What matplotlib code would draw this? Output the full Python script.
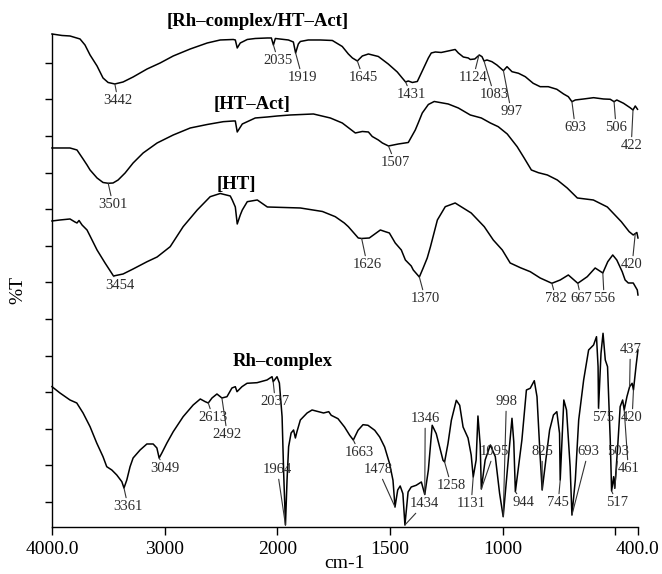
import numpy as np
import matplotlib
matplotlib.use("Agg")
import matplotlib.pyplot as plt
from matplotlib.ticker import NullLocator

plt.rcParams["font.family"] = ["Liberation Serif", "DejaVu Serif"]

# Spectra: wavenumber (cm-1) and %T in offset arbitrary units
rhht_wn = [4000, 3911, 3840, 3751, 3707, 3662, 3600, 3547, 3502, 3442, 3369, 3280, 3156, 3040, 2924,
           2773, 2622, 2507, 2391, 2373, 2356, 2329, 2267, 2196, 2089, 2053, 2035, 2018, 1951, 1929,
           1919, 1907, 1898, 1863, 1809, 1756, 1712, 1685, 1667, 1645, 1623, 1596, 1552, 1508, 1468,
           1446, 1431, 1419, 1401, 1379, 1357, 1330, 1317, 1299, 1273, 1242, 1211, 1197, 1175, 1153,
           1144, 1124, 1104, 1092, 1083, 1070, 1048, 1026, 997, 981, 959, 930, 900, 865, 834,
           798, 760, 730, 709, 693, 678, 641, 597, 553, 523, 506, 494, 464, 435, 422,
           412, 402]
rhht_t = [468, 466.5, 466, 463, 457, 447, 436, 424, 419.5, 418, 420, 425, 433, 439, 446,
          453, 459, 462, 462.5, 462, 454, 459, 462.5, 463.5, 464, 464, 457, 463.5, 462, 460,
          449, 458, 460.5, 462, 462, 461.5, 455.5, 448, 444, 441, 446, 448, 445.5, 438, 430,
          424, 420, 421, 419.5, 420.5, 431, 444, 449, 450, 449.5, 451, 452.5, 449, 445, 444,
          442.5, 443, 447, 445.3, 441, 442, 440.3, 437, 431.3, 435.3, 430.3, 428.7, 425.3, 418.7, 415.3,
          415.3, 412.7, 408, 405.3, 400.3, 402, 403, 404.3, 403, 402.7, 400.3, 402, 398.7, 394.3, 392,
          396, 392.7]

ht_act_wn = [4000, 3840, 3778, 3724, 3689, 3662, 3600, 3547, 3501, 3458, 3413, 3351, 3280, 3191, 3067,
             2924, 2773, 2622, 2480, 2391, 2373, 2356, 2311, 2196, 2089, 2000, 1942, 1840, 1765, 1712,
             1654, 1623, 1596, 1579, 1552, 1534, 1507, 1463, 1419, 1388, 1375, 1357, 1330, 1304, 1242,
             1197, 1144, 1095, 1055, 1020, 980, 936, 905, 873, 842, 802, 758, 714, 669, 598,
             536, 474, 439, 421, 405, 400]
ht_act_t = [354, 354, 352, 343, 337, 332, 324, 319.5, 318.7, 319, 322, 329, 339, 349, 359,
            367, 374, 377.5, 380.3, 381, 381, 370, 378, 384, 385, 386, 387, 388, 384, 379,
            369, 370.5, 370, 365.5, 362, 359, 356, 358, 359.5, 372, 379, 389, 397.5, 400.5, 398,
            394, 387, 384, 379, 375.3, 368, 355.3, 344, 332, 329.3, 327, 322, 314, 304, 302,
            295, 280.3, 270.3, 267, 269.5, 264]

ht_wn = [4000, 3929, 3840, 3796, 3778, 3760, 3733, 3689, 3662, 3600, 3529, 3454, 3369, 3280, 3156,
         3067, 2951, 2836, 2711, 2596, 2507, 2418, 2400, 2373, 2356, 2329, 2311, 2267, 2178, 2089,
         1898, 1800, 1743, 1703, 1685, 1641, 1626, 1592, 1543, 1521, 1503, 1477, 1450, 1432, 1406,
         1397, 1370, 1353, 1335, 1321, 1290, 1255, 1211, 1197, 1140, 1082, 1042, 1002, 967, 922,
         878, 834, 782, 745, 709, 667, 625, 590, 556, 534, 512, 494, 470, 457, 443,
         421, 403, 400]
ht_t = [281, 282, 283, 280, 279, 281.5, 277, 272, 266, 252, 239, 226, 228, 233, 240.3,
        245, 255.3, 275.3, 292, 305.3, 308.5, 306, 302, 295, 278, 287, 292, 300.3, 302, 295,
        294, 290.5, 285.3, 279, 275.3, 264, 263.5, 264, 272, 270.3, 269, 259, 252, 242, 236,
        232, 225, 234, 244, 255, 282, 295.3, 299, 297, 289, 275.3, 262, 252, 239, 234.3,
        230.3, 224, 218.7, 222, 227, 218.7, 225.3, 234, 229, 240.3, 247, 242, 230.3, 222, 219,
        219, 212, 207]

rh_wn = [4000, 3929, 3840, 3780, 3724, 3662, 3603, 3547, 3514, 3469, 3425, 3380, 3361, 3336, 3307,
         3280, 3218, 3158, 3102, 3069, 3049, 3025, 2980, 2924, 2836, 2747, 2684, 2640, 2613, 2580,
         2536, 2492, 2447, 2403, 2373, 2358, 2314, 2269, 2180, 2092, 2047, 2037, 2003, 1991, 1979,
         1972, 1964, 1957, 1950, 1939, 1928, 1920, 1913, 1898, 1868, 1846, 1817, 1795, 1772, 1761,
         1731, 1702, 1679, 1663, 1642, 1620, 1598, 1568, 1546, 1524, 1502, 1487, 1478, 1466, 1455,
         1443, 1434, 1420, 1406, 1384, 1361, 1346, 1330, 1313, 1295, 1280, 1265, 1258, 1243, 1228,
         1206, 1191, 1176, 1154, 1140, 1131, 1118, 1110, 1100, 1095, 1078, 1055, 1033, 1014, 998,
         981, 959, 951, 944, 915, 895, 878, 860, 848, 834, 825, 807, 792, 775, 760,
         748, 745, 729, 717, 701, 693, 678, 663, 641, 619, 597, 584, 577, 575, 564,
         555, 545, 535, 523, 517, 508, 503, 490, 479, 468, 461, 449, 437, 426, 420,
         408, 400]
rh_t = [115.3, 109, 102, 99, 89, 75.3, 59, 45.3, 35.3, 32, 27, 20.3, 14, 22, 35.3,
        44, 52, 58, 58, 54, 44, 49, 59, 70.3, 85.3, 97, 103, 100.3, 99, 104,
        108, 104, 105.3, 114, 115.3, 110.3, 115.3, 118.7, 119.3, 122, 125.3, 120.3, 125.3, 119, 85.3,
        29, -23, 22, 55.3, 69, 72, 64, 70.3, 82, 89, 92, 90.3, 89, 90.3, 86.7,
        83.3, 75, 66.7, 62, 71.7, 77.3, 76.7, 71.7, 65, 55, 38.3, 21.7, -5, 12, 16,
        8.3, -23, 10, 15, 16.7, 20, 7.5, 32, 76.7, 68.3, 55, 41.7, 40, 58.3, 81.7,
        101.7, 96.7, 75, 64, 47, 25, 42, 86, 57, 13, 42, 57, 45.3, 8.7, -14.7,
        28.7, 83.7, 60, 10.3, 62, 112, 113.7, 121.3, 105.3, 45.3, 12, 45.3, 72, 87, 90.3,
        68.7, 22, 102, 92, 35.3, -13, 22, 82, 122, 152, 157, 165.3, 135.3, 93.7, 148.7,
        168.7, 142, 135.3, 62, 11, 25.3, 13.7, 55.3, 95.3, 102, 92, 105.3, 115.3, 118.7, 112,
        137, 152]

# sample names and where they sit
names = ["[Rh\u2013complex/HT\u2013Act]", "[HT\u2013Act]", "[HT]", "Rh\u2013complex"]
name_pos = [(2178, 480), (2222, 397), (2364, 317), (1978, 140)]

# peak labels: text, wavenumber the line points at, label position
rhht_peaks = ["3442", "2035", "1919", "1645", "1431", "1124", "1083", "997", "693", "506", "422"]
rhht_peak_x = [3442, 2035, 1919, 1645, 1431, 1106, 1083, 997, 693, 506, 422]
rhht_peak_pos = [(3413, 401), (1996, 441), (1889, 424), (1619, 424), (1406, 407), (1131, 424),
                 (1038, 407), (962, 390), (678, 374), (497, 374), (430, 356)]

ht_act_peaks = ["3501", "1507", "420"]
ht_act_peak_x = [3501, 1507, 412]
ht_act_peak_pos = [(3458, 297), (1477, 339), (426, 237)]

ht_peaks = ["3454", "1626", "1370", "782", "667", "556"]
ht_peak_x = [3454, 1626, 1370, 782, 667, 556]
ht_peak_pos = [(3396, 216), (1601, 237), (1344, 203), (763, 203), (652, 203), (550, 203)]

rh_peaks = ["3361", "3049", "2613", "2492", "2037", "1964", "1663", "1478", "1434", "1346", "1258",
            "1131", "1095", "998", "944", "825", "745", "693", "575", "517", "503", "461", "437", "420"]
rh_peak_x = [3361, 3049, 2613, 2492, 2037, 1964, 1663, 1478, 1434, 1346, 1258,
             1131, 1095, 998, 944, 825, 745, 693, 575, 517, 503, 461, 437, 420]
rh_peak_pos = [(3324, -5), (2996, 33), (2569, 84), (2444, 67), (2018, 100), (2000, 32), (1636, 49),
               (1552, 32), (1348, -2), (1344, 83), (1228, 16), (1140, -2), (1038, 50), (984, 100),
               (909, -1), (825, 50), (754, -1), (621, 50), (554, 84), (492, -1), (488, 50),
               (443, 33), (434, 152), (426, 84)]


def fwd(x):
    # 4000-2000 region is drawn at half the scale of 2000-400
    x = np.asarray(x, dtype=float)
    return np.where(x > 2000, 2000 + (x - 2000) / 2, x)


def inv(u):
    u = np.asarray(u, dtype=float)
    return np.where(u > 2000, 2000 + (u - 2000) * 2, u)


fig = plt.figure(figsize=(6.62, 5.74), dpi=100)
ax = fig.add_axes([0.0785, 0.0819, 0.8852, 0.8589])
ax.set_xscale("function", functions=(fwd, inv))
ax.set_xlim(4000, 400)
ax.set_ylim(-25, 468)

spectra = [(rhht_wn, rhht_t), (ht_act_wn, ht_act_t), (ht_wn, ht_t), (rh_wn, rh_t)]
for wn, t in spectra:
    ax.plot(wn, t, color="black", lw=1.1, clip_on=False)

for name, (x, y) in zip(names, name_pos):
    ax.text(x, y, name, ha="center", va="center", fontsize=13.5, fontweight="bold")

peak_sets = [
    (rhht_peaks, rhht_peak_x, rhht_peak_pos, rhht_wn, rhht_t),
    (ht_act_peaks, ht_act_peak_x, ht_act_peak_pos, ht_act_wn, ht_act_t),
    (ht_peaks, ht_peak_x, ht_peak_pos, ht_wn, ht_t),
    (rh_peaks, rh_peak_x, rh_peak_pos, rh_wn, rh_t),
]
for labels, xs, pos, wn, t in peak_sets:
    for lab, px, (tx, ty) in zip(labels, xs, pos):
        py = np.interp(px, wn[::-1], t[::-1])
        ax.annotate(lab, xy=(px, py), xytext=(tx, ty), textcoords="data",
                    ha="center", va="center", fontsize=10.5, color="#2b2b2b",
                    arrowprops=dict(arrowstyle="-", color="#333333", lw=0.8,
                                    shrinkA=0, shrinkB=0))

for side in ("top", "right"):
    ax.spines[side].set_visible(False)
for side in ("left", "bottom"):
    ax.spines[side].set_linewidth(1.0)

ax.set_xticks([4000, 3000, 2000, 1500, 1000, 500, 400])
ax.set_xticklabels(["4000.0", "3000", "2000", "1500", "1000", "", "400.0"])
ax.xaxis.set_minor_locator(NullLocator())
ax.tick_params(axis="x", direction="out", length=6, width=1, labelsize=14, pad=4)

ax.set_yticks(np.arange(13) * 36.6)
ax.set_yticklabels([])
ax.tick_params(axis="y", direction="out", length=5, width=1)

ax.set_xlabel("cm-1", fontsize=14, va="center")
ax.xaxis.set_label_coords(0.5, -0.074)
ax.set_ylabel("%T", fontsize=14)
ax.yaxis.set_label_coords(-0.044, 0.48)

fig.savefig("out.png", dpi=100)
